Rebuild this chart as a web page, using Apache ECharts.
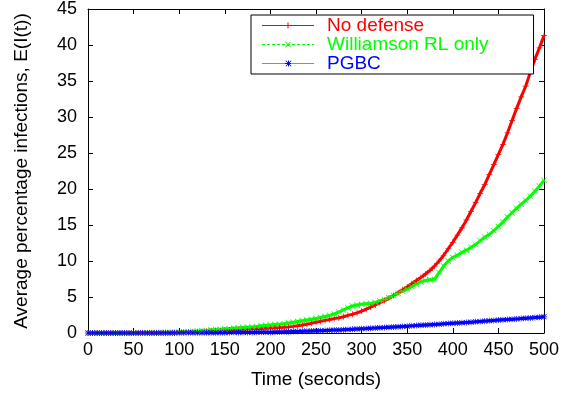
<!DOCTYPE html>
<html>
<head>
<meta charset="utf-8">
<script src="https://cdn.jsdelivr.net/npm/echarts@6/dist/echarts.min.js"></script>
<style>
  html, body { margin: 0; padding: 0; background: #fff; }
  #main { width: 563px; height: 396px; }
</style>
</head>
<body>
<div id="main"></div>
<script>
// sample times (seconds)
const times = [
  0, 5, 10, 15, 20, 25, 30, 35, 40, 45, 50, 55, 60, 65, 70, 75, 80, 85, 90, 95,
  100, 105, 110, 115, 120, 125, 130, 135, 140, 145, 150, 155, 160, 165, 170, 175, 180, 185, 190, 195,
  200, 205, 210, 215, 220, 225, 230, 235, 240, 245, 250, 255, 260, 265, 270, 275, 280, 285, 290, 295,
  300, 305, 310, 315, 320, 325, 330, 335, 340, 345, 350, 355, 360, 365, 370, 375, 380, 385, 390, 395,
  400, 405, 410, 415, 420, 425, 430, 435, 440, 445, 450, 455, 460, 465, 470, 475, 480, 485, 490, 495, 500
];

const noDefense = [
  0, 0, 0, 0, 0, 0, 0, 0, 0, 0.01, 0.01, 0.02, 0.02, 0.03, 0.03, 0.04, 0.05, 0.06, 0.07, 0.08, 0.1,
  0.12, 0.14, 0.16, 0.19, 0.22, 0.26, 0.3, 0.33, 0.36, 0.4,
  0.43, 0.46, 0.49, 0.52, 0.55, 0.58, 0.6, 0.63, 0.67, 0.7,
  0.73, 0.76, 0.8, 0.85, 0.92, 1.0, 1.1, 1.22, 1.35, 1.5,
  1.62, 1.75, 1.88, 2.0, 2.1, 2.25, 2.45, 2.6, 2.8, 3.05,
  3.3, 3.6, 3.9, 4.2, 4.5, 4.85, 5.2, 5.6, 6.0, 6.4,
  6.85, 7.3, 7.7, 8.2, 8.7, 9.3, 10.0, 10.8, 11.7, 12.6,
  13.6, 14.6, 15.7, 16.9, 18.1, 19.4, 20.6, 22.0, 23.4, 24.8,
  26.2, 27.8, 29.5, 31.2, 32.8, 34.3, 36.2, 38.0, 39.6, 41.3
];

const williamson = [
  0, 0, 0, 0, 0, 0, 0, 0, 0.01, 0.01, 0.02, 0.02, 0.03, 0.03, 0.04, 0.05, 0.06, 0.07, 0.08, 0.1, 0.12,
  0.15, 0.18, 0.22, 0.26, 0.3, 0.35, 0.4, 0.45, 0.5, 0.55,
  0.6, 0.65, 0.7, 0.75, 0.8, 0.85, 0.92, 1.0, 1.05, 1.1,
  1.17, 1.23, 1.3, 1.38, 1.5, 1.6, 1.7, 1.8, 1.9, 2.0,
  2.15, 2.3, 2.45, 2.65, 2.9, 3.2, 3.5, 3.75, 3.9, 4.0,
  4.05, 4.1, 4.25, 4.45, 4.65, 4.9, 5.2, 5.5, 5.8, 6.1,
  6.45, 6.8, 7.1, 7.3, 7.4, 7.45, 8.4, 9.3, 10.0, 10.5,
  10.8, 11.2, 11.5, 11.9, 12.3, 12.8, 13.3, 13.7, 14.2, 14.8,
  15.4, 16.1, 16.7, 17.3, 17.9, 18.4, 19.0, 19.7, 20.4, 21.2
];

const pgbc = [
  0, 0, 0, 0, 0, 0, 0, 0, 0, 0, 0, 0, 0, 0, 0, 0, 0.01, 0.01, 0.01, 0.01, 0.02,
  0.02, 0.02, 0.03, 0.03, 0.03, 0.04, 0.04, 0.04, 0.05, 0.05,
  0.06, 0.06, 0.07, 0.07, 0.08, 0.08, 0.09, 0.1, 0.11, 0.12,
  0.13, 0.15, 0.16, 0.18, 0.2, 0.22, 0.24, 0.26, 0.28, 0.3,
  0.32, 0.35, 0.37, 0.4, 0.42, 0.45, 0.48, 0.51, 0.55, 0.58,
  0.61, 0.65, 0.68, 0.72, 0.75, 0.79, 0.83, 0.87, 0.91, 0.95,
  0.99, 1.03, 1.07, 1.11, 1.15, 1.19, 1.23, 1.27, 1.31, 1.35,
  1.39, 1.43, 1.47, 1.51, 1.55, 1.6, 1.65, 1.7, 1.75, 1.8,
  1.84, 1.88, 1.92, 1.96, 2.0, 2.05, 2.1, 2.15, 2.2, 2.25
];

const seriesNames = ['No defense', 'Williamson RL only', 'PGBC'];
const seriesColors = ['#ff0000', '#00ff00', '#0000ff'];

// gnuplot style point types: +, x, *
const plusPath = 'path://M0,4.4H10V5.6H0Z M4.4,0H5.6V10H4.4Z';
const crossPath = 'path://M0.8,0L5,4.2L9.2,0L10,0.8L5.8,5L10,9.2L9.2,10L5,5.8L0.8,10L0,9.2L4.2,5L0,0.8Z';
const starPath = 'path://M0,4.4H10V5.6H0Z M4.4,0H5.6V10H4.4Z M1.2,0.4L5,4.2L8.8,0.4L9.6,1.2L5.8,5L9.6,8.8L8.8,9.6L5,5.8L1.2,9.6L0.4,8.8L4.2,5L0.4,1.2Z';

// legend keys: 52 x 6 line sample with the point in the middle
function dashes(len, gap) {
  let p = '';
  for (let x = 0; x < 52; x += len + gap) {
    p += 'M' + x + ',2.5H' + Math.min(52, x + len) + 'V3.5H' + x + 'Z ';
  }
  return p;
}
const keyPlus = 'M25.5,0H26.5V6H25.5Z M23,2.5H29V3.5H23Z ';
const keyCross = 'M23,0.6L23.6,0L29,5.4L28.4,6Z M28.4,0L29,0.6L23.6,6L23,5.4Z ';
const legendIcons = [
  'path://M0,2.5H52V3.5H0Z ' + keyPlus,
  'path://' + dashes(3, 2) + keyCross,
  'path://' + dashes(1, 1) + keyPlus + keyCross
];

function pairs(vals) {
  return times.map((t, i) => [t, vals[i]]);
}

const font = 'Liberation Sans, Arial, Helvetica, sans-serif';

function borderAxis(extra) {
  return Object.assign({
    type: 'value',
    axisLine: { show: true, onZero: false, lineStyle: { color: '#000', width: 1 } },
    axisTick: { inside: true, length: 5, lineStyle: { color: '#000' } },
    splitLine: { show: false }
  }, extra);
}

var chart = echarts.init(document.getElementById('main'));
var option = {
  animation: false,
  backgroundColor: '#fff',
  grid: { left: 88, right: 19, top: 9, bottom: 63 },
  legend: {
    orient: 'vertical',
    left: 251,
    top: 15,
    padding: [1, 45, 1, 11],
    itemGap: 0,
    itemWidth: 52,
    itemHeight: 6,
    borderColor: '#000',
    borderWidth: 1,
    backgroundColor: '#fff',
    data: seriesNames.map((n, i) => ({
      name: n,
      icon: legendIcons[i],
      itemStyle: { color: seriesColors[i] },
      textStyle: { color: seriesColors[i] }
    })),
    textStyle: { fontFamily: font, fontSize: 19, padding: [0, 0, 0, 8], lineHeight: 19 }
  },
  xAxis: [
    borderAxis({
      min: 0, max: 500, interval: 50,
      name: 'Time (seconds)', nameLocation: 'middle', nameGap: 37,
      nameTextStyle: { fontFamily: font, fontSize: 19, color: '#000' },
      axisLabel: { fontFamily: font, fontSize: 18, color: '#000', margin: 8 }
    }),
    borderAxis({
      min: 0, max: 500, interval: 50, position: 'top',
      axisLabel: { show: false }
    })
  ],
  yAxis: [
    borderAxis({
      min: 0, max: 45, interval: 5,
      name: 'Average percentage infections, E(I(t))', nameLocation: 'middle', nameGap: 57,
      nameTextStyle: { fontFamily: font, fontSize: 19, color: '#000' },
      axisLabel: { fontFamily: font, fontSize: 18, color: '#000', margin: 11 }
    }),
    borderAxis({
      min: 0, max: 45, interval: 5, position: 'right',
      axisLabel: { show: false }
    })
  ],
  series: [
    {
      name: seriesNames[0], type: 'line', data: pairs(noDefense),
      symbol: plusPath, symbolSize: 6, showAllSymbol: true, clip: false,
      lineStyle: { color: seriesColors[0], width: 3, type: 'solid' },
      itemStyle: { color: seriesColors[0] }
    },
    {
      name: seriesNames[1], type: 'line', data: pairs(williamson),
      symbol: crossPath, symbolSize: 6, showAllSymbol: true, clip: false,
      lineStyle: { color: seriesColors[1], width: 3, type: 'solid' },
      itemStyle: { color: seriesColors[1] }
    },
    {
      name: seriesNames[2], type: 'line', data: pairs(pgbc),
      symbol: starPath, symbolSize: 6, showAllSymbol: true, clip: false,
      lineStyle: { color: seriesColors[2], width: 3, type: 'solid' },
      itemStyle: { color: seriesColors[2] }
    }
  ]
};
chart.setOption(option);
</script>
</body>
</html>
